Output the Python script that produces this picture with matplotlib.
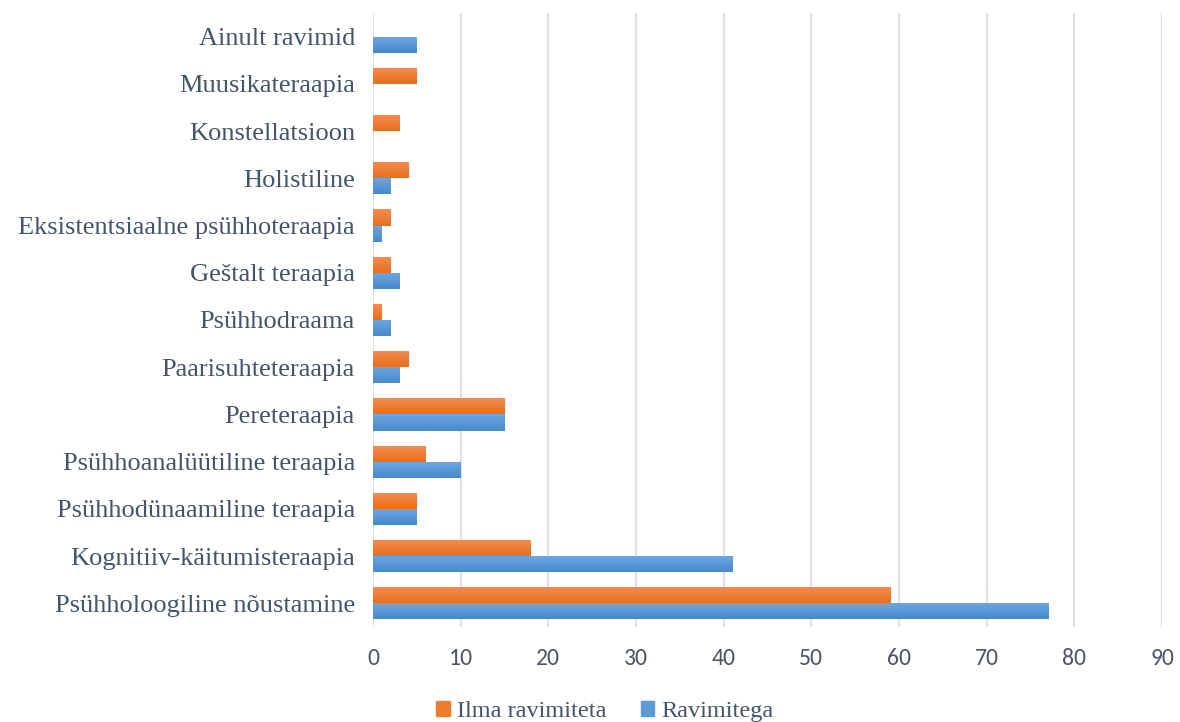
import numpy as np
import matplotlib
matplotlib.use('Agg')
import matplotlib.pyplot as plt
from matplotlib.colors import LinearSegmentedColormap
from matplotlib.patches import Patch

# categories listed bottom to top
categories = [
    'Psühholoogiline nõustamine',
    'Kognitiiv-käitumisteraapia',
    'Psühhodünaamiline teraapia',
    'Psühhoanalüütiline teraapia',
    'Pereteraapia',
    'Paarisuhteteraapia',
    'Psühhodraama',
    'Geštalt teraapia',
    'Eksistentsiaalne psühhoteraapia',
    'Holistiline',
    'Konstellatsioon',
    'Muusikateraapia',
    'Ainult ravimid',
]
ilma_ravimiteta = [59, 18, 5, 6, 15, 4, 1, 2, 2, 4, 3, 5, 0]
ravimitega = [77, 41, 5, 10, 15, 3, 2, 3, 1, 2, 0, 0, 5]
xticks = list(range(0, 100, 10))

orange_top, orange_bot = '#f58d52', '#e86f1c'
blue_top, blue_bot = '#6fa8e1', '#4689cc'

serif = ['Liberation Serif', 'DejaVu Serif']
label_col = '#44546a'

fig = plt.figure(figsize=(11.8, 7.22), dpi=100)
ax = fig.add_axes([373 / 1180, 1 - 627 / 722, (1162 - 373) / 1180, (627 - 13) / 722])

y = np.arange(len(categories))
h = 0.34
bars_o = ax.barh(y + h / 2, ilma_ravimiteta, height=h, color=orange_bot, zorder=2)
bars_b = ax.barh(y - h / 2, ravimitega, height=h, color=blue_bot, zorder=2)


def shade(bars, top, bot):
    # vertical gradient inside each bar
    cmap = LinearSegmentedColormap.from_list('g', [top, bot])
    grad = np.linspace(0, 1, 64).reshape(-1, 1)
    for b in bars:
        w = b.get_width()
        if w <= 0:
            continue
        y0 = b.get_y()
        im = ax.imshow(grad, cmap=cmap, aspect='auto', origin='upper',
                       extent=[b.get_x(), b.get_x() + w, y0, y0 + b.get_height()],
                       zorder=3, interpolation='bilinear')
        im.set_clip_path(b)


shade(bars_o, orange_top, orange_bot)
shade(bars_b, blue_top, blue_bot)

ax.set_xlim(0, 90)
ax.set_ylim(-0.5, len(categories) - 0.5)
ax.set_xticks(xticks)
ax.set_xticklabels([str(t) for t in xticks], fontsize=17, color='#4a5568',
                   family=['Carlito', 'Open Sans', 'DejaVu Sans'])
ax.set_yticks(y)
ax.set_yticklabels(categories, fontsize=19, color=label_col, family=serif)
ax.tick_params(axis='both', length=0)
ax.tick_params(axis='x', pad=15)
ax.tick_params(axis='y', pad=13)
ax.xaxis.grid(True, color='#dde1e8', linewidth=1.6, zorder=0)
ax.set_axisbelow(True)
for s in ax.spines.values():
    s.set_visible(False)

handles = [Patch(color='#ed7d31'), Patch(color='#5b9bd5')]
fig.legend(handles, ['Ilma ravimiteta', 'Ravimitega'], loc='lower center',
           bbox_to_anchor=(605 / 1180, -0.03), ncol=2, frameon=False,
           prop={'family': serif, 'size': 17.5}, labelcolor=label_col,
           handlelength=0.55, handleheight=0.55, handletextpad=0.3, columnspacing=1.4)

fig.savefig('out.png', dpi=100)
